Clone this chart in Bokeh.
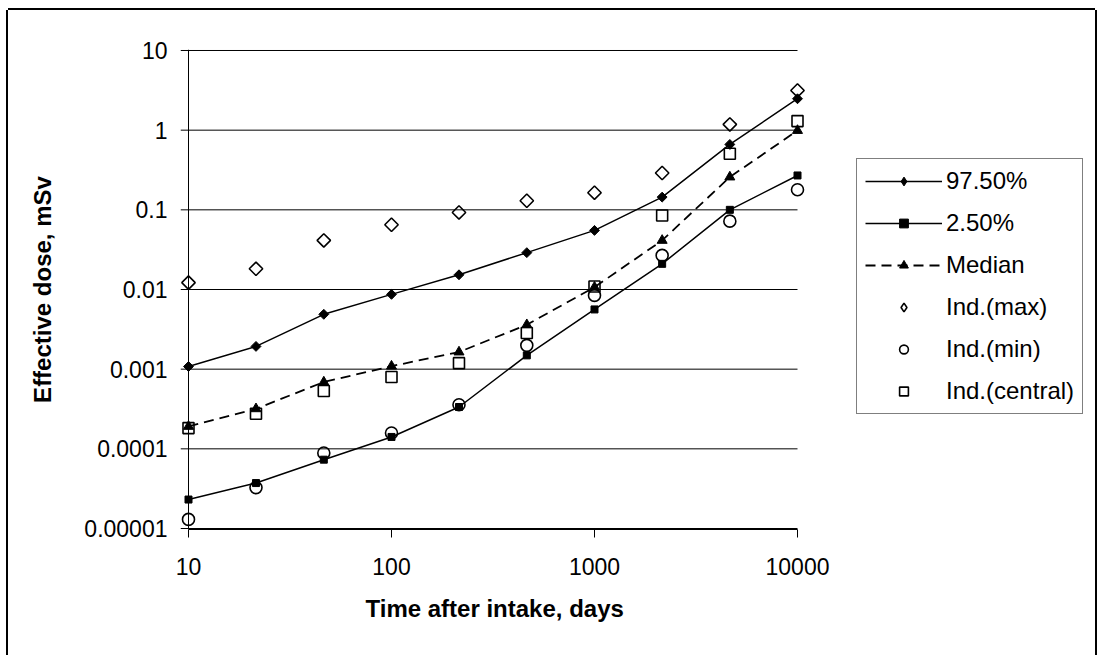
import math
from bokeh.plotting import figure
from bokeh.models import Range1d, FixedTicker, Legend, LegendItem, Span, Title
from bokeh.embed import file_html
from bokeh.resources import INLINE

# ---------------- data ----------------
days = [10, 21.5, 46.4, 100, 215, 464, 1000, 2154, 4642, 10000]
p975 = [0.00108, 0.00193, 0.00488, 0.00869, 0.0153, 0.029, 0.0552, 0.1445, 0.662, 2.48]
p025 = [0.0000231, 0.0000372, 0.0000731, 0.000141, 0.000335, 0.00149, 0.00562, 0.021, 0.1, 0.27]
median = [0.000191, 0.000318, 0.000689, 0.00109, 0.00164, 0.00361, 0.0107, 0.0413, 0.258, 0.99]
ind_max = [0.0122, 0.0182, 0.0413, 0.065, 0.0927, 0.130, 0.164, 0.29, 1.18, 3.15]
ind_min = [0.000013, 0.0000326, 0.0000887, 0.000158, 0.000358, 0.00199, 0.00843, 0.0268, 0.0721, 0.179]
ind_central = [0.000182, 0.000276, 0.000532, 0.000796, 0.00119, 0.00284, 0.0109, 0.085, 0.506, 1.30]

series_labels = ["97.50%", "2.50%", "Median", "Ind.(max)", "Ind.(min)", "Ind.(central)"]

x_ticks = [10, 100, 1000, 10000]
x_tick_labels = ["10", "100", "1000", "10000"]
y_ticks = [1e-5, 1e-4, 1e-3, 1e-2, 1e-1, 1, 10]
y_tick_labels = ["0.00001", "0.0001", "0.001", "0.01", "0.1", "1", "10"]

x_title = "Time after intake, days"
y_title = "Effective dose, mSv"

# ---------------- layout ----------------
FONT = "Liberation Sans"
FS = "23px"
LFS = "24px"
TFS = "24px"
DEC_X = 203.0          # px per decade on x
DEC_Y = 79.7           # px per decade on y
CANVAS_W, CANVAS_H = 1087, 645
BORDER_L, BORDER_R, BORDER_T, BORDER_B = 172, 2, 39, 126
frame_w = CANVAS_W - BORDER_L - BORDER_R
padx = 8 / DEC_X                        # room left of the value axis for tick stubs
x_start = 10 ** (1 - padx)
x_end = 10 ** (1 - padx + frame_w / DEC_X)
pady = 1 / DEC_Y

p = figure(width=CANVAS_W, height=CANVAS_H,
           x_axis_type="log", y_axis_type="log",
           x_range=Range1d(x_start, x_end),
           y_range=Range1d(10 ** (-5 - pady), 10 ** (1 + pady)),
           output_backend="svg", toolbar_location=None,
           min_border_left=BORDER_L, min_border_right=BORDER_R,
           min_border_top=BORDER_T, min_border_bottom=BORDER_B)

p.outline_line_color = None
p.background_fill_color = "white"
p.border_fill_color = "white"
p.styles = {"margin-left": "8px", "margin-top": "10px",
            "box-shadow": "-2px 0 0 0 #000, 2px 0 0 0 #000, 0 -2px 0 0 #000"}

# axes
xa = p.xaxis[0]
ya = p.yaxis[0]
xa.ticker = FixedTicker(ticks=x_ticks)
xa.major_label_overrides = dict(zip(x_ticks, x_tick_labels))
xa.bounds = (x_ticks[0], x_ticks[-1])
ya.ticker = FixedTicker(ticks=y_ticks)
ya.major_label_overrides = dict(zip(y_ticks, y_tick_labels))

for ax in (xa, ya):
    ax.axis_line_color = "black"
    ax.axis_line_width = 1
    ax.major_tick_in = 0
    ax.major_tick_line_color = "black"
    ax.minor_tick_line_color = None
    ax.minor_tick_in = 0
    ax.major_label_text_font = FONT
    ax.major_label_text_font_size = FS
    ax.major_label_text_color = "black"
    ax.axis_label_text_font = FONT
    ax.axis_label_text_font_size = TFS
    ax.axis_label_text_font_style = "bold"
    ax.axis_label_text_color = "black"

xa.major_tick_out = 8
xa.minor_tick_out = 0
ya.major_tick_out = 0
ya.minor_tick_out = 0
ya.axis_line_color = None
ya.major_tick_line_color = None

ya.axis_label = y_title
xa.major_label_standoff = 20
ya.major_label_standoff = 13
ya.axis_label_standoff = 25

p.xgrid.grid_line_color = None
p.ygrid.grid_line_color = None

# horizontal gridlines at the y ticks, spanning the x-axis extent
p.segment(x0=[x_start] * len(y_ticks), x1=[x_ticks[-1]] * len(y_ticks),
          y0=y_ticks, y1=y_ticks, line_color="black", line_width=1)

# vertical value-axis line at the first x tick
p.add_layout(Span(location=x_ticks[0], dimension="height",
                  line_color="black", line_width=1))

# x-axis title, centred under the axis extent
xt = Title(text=x_title, align="left", offset=185, standoff=30,
           text_font=FONT, text_font_size=TFS, text_font_style="bold",
           text_color="black")
p.add_layout(xt, "below")

# ---------------- series ----------------
l1 = p.line(days, p975, line_color="black", line_width=1.5)
s1 = p.scatter(days, p975, marker="square", angle=math.pi / 4, size=7,
               fill_color="black", line_color="black")
l2 = p.line(days, p025, line_color="black", line_width=1.5)
s2 = p.scatter(days, p025, marker="square", size=7,
               fill_color="black", line_color="black")
l3 = p.line(days, median, line_color="black", line_width=1.8, line_dash="10 6")
s3 = p.scatter(days, median, marker="triangle", size=10,
               fill_color="black", line_color="black")
s4 = p.scatter(days, ind_max, marker="square", angle=math.pi / 4, size=9.5,
               fill_color=None, line_color="black", line_width=1.6)
s5 = p.scatter(days, ind_min, marker="circle", size=12,
               fill_color=None, line_color="black", line_width=1.6)
s6 = p.scatter(days, ind_central, marker="square", size=11,
               fill_color=None, line_color="black", line_width=1.6)

# legend-only diamond glyphs (legend markers are never rotated); NaN keeps them off the plot
nan = float("nan")
d1 = p.scatter(x=[nan], y=[nan], marker="diamond", fill_color="black", line_color="black")
d4 = p.scatter(x=[nan], y=[nan], marker="diamond", fill_color=None, line_color="black",
               line_width=1.6)

legend = Legend(items=[
    LegendItem(label=series_labels[0], renderers=[l1, d1]),
    LegendItem(label=series_labels[1], renderers=[l2, s2]),
    LegendItem(label=series_labels[2], renderers=[l3, s3]),
    LegendItem(label=series_labels[3], renderers=[d4]),
    LegendItem(label=series_labels[4], renderers=[s5]),
    LegendItem(label=series_labels[5], renderers=[s6]),
], location=(676, 115))
legend.label_text_font = FONT
legend.label_text_font_size = LFS
legend.label_text_color = "black"
legend.glyph_width = 77
legend.glyph_height = 22
legend.label_height = 22
legend.spacing = 14
legend.padding = 8
legend.margin = 0
legend.label_standoff = 4
legend.border_line_color = "black"
legend.border_line_width = 1
legend.background_fill_color = "white"
legend.background_fill_alpha = 1
p.add_layout(legend, "center")

open("out.html", "w").write(file_html(p, INLINE))
